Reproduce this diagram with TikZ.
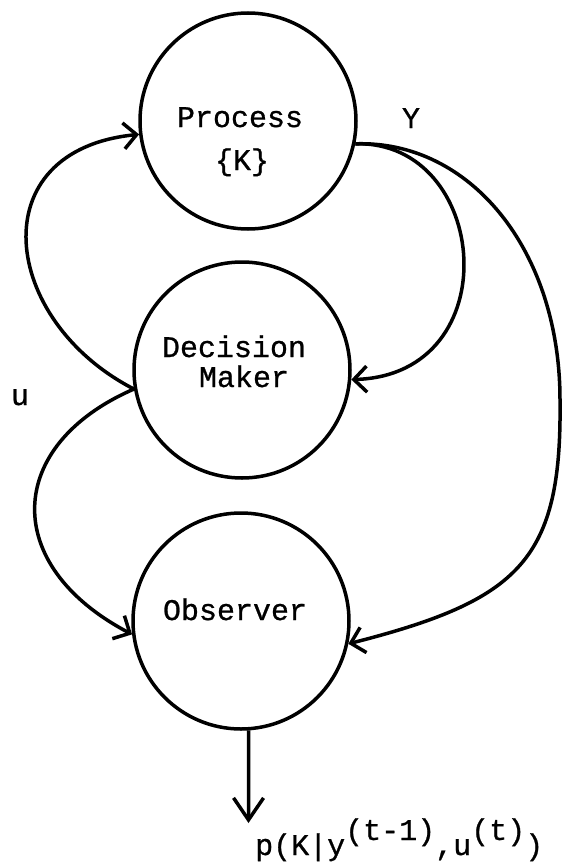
\documentclass[tikz,border=0pt]{standalone}
\usepackage{fontspec}
\setmainfont{Liberation Mono}[FakeBold=0.8]
\usetikzlibrary{arrows.meta}
\begin{document}
\begin{tikzpicture}[x=1pt,y=-1pt,
  blob/.style={circle, draw, line width=3.5pt, minimum size=216pt, inner sep=0pt},
  txt/.style={font=\fontsize{30}{30}\selectfont, anchor=base, inner sep=0pt},
  conn/.style={line width=3.5pt, -{Straight Barb[length=13pt,width=26pt,line width=3.5pt]}},
  downconn/.style={line width=3.5pt, -{Straight Barb[length=22pt,width=30pt,line width=3.5pt]}}
]
\useasboundingbox (0,0) rectangle (563,862);
% circles
\node[blob] (P) at (248,121) {};
\node[blob] (D) at (242,370) {};
\node[blob] (O) at (241,621) {};
% texts
\node[txt] (tP) at (240,127) {Process};
\node[txt] (tK) at (242,170) {\{K\}};
\node[txt] (tD) at (234,357) {Decision};
\node[txt] (tM) at (244,387) {Maker};
\node[txt] (tO) at (235,620) {Observer};
\node[txt] (tY) at (411,128) {Y};
\node[txt] (tu) at (20,405) {u};
\node[txt, anchor=base west] (lab) at (255,855) {p(K|y\raisebox{15pt}{(t-1)},u\raisebox{15pt}{(t)})};
% helper coordinates
\coordinate (R) at (560,400);
\coordinate (tip) at (248.5,823);
% connectors
\draw[conn] (D.190) .. controls (0,320) and (-20,150) .. (P.187);
\draw[conn] (D.190) .. controls (5,445) and (0,565) .. (O.187);
\draw[conn] (P.348) .. controls (490,140) and (510,375) .. (D.355);
\draw[conn] (P.348) .. controls (470,140) and (560,250) .. (R) .. controls (562,560) and (520,600) .. (O.348);
\draw[downconn] (O.274) -- (tip);
\end{tikzpicture}
\end{document}
